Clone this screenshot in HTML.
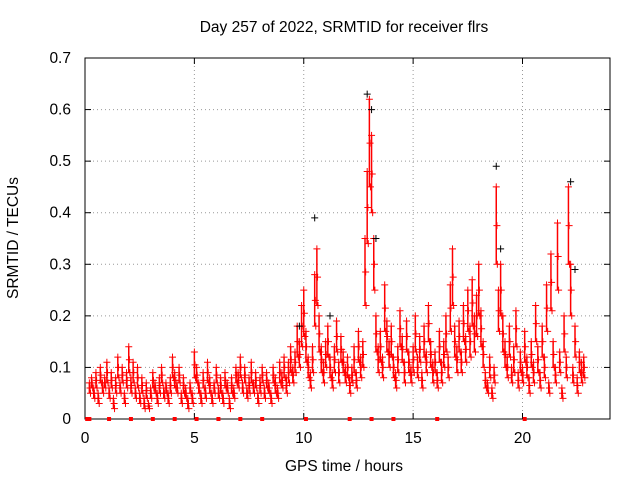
<!DOCTYPE html>
<html><head><meta charset="utf-8"><style>
body{margin:0;background:#fff}
svg text{font-family:"Liberation Sans",sans-serif;font-size:15.5px;fill:#000}
</style></head><body>
<svg id="chart" width="640" height="480">
<rect x="0" y="0" width="640" height="480" fill="#fff"/>
<g id="grid"></g>
<rect x="85" y="58" width="525" height="361" fill="none" stroke="#000" stroke-width="1"/>
<g id="axes"></g>
<g id="marks"></g>
<text x="344" y="32" text-anchor="middle">Day 257 of 2022, SRMTID for receiver flrs</text>
<text x="344" y="471" text-anchor="middle">GPS time / hours</text>
<text x="18" y="238" text-anchor="middle" transform="rotate(-90 18 238)">SRMTID / TECUs</text>
</svg>
<script>
const xTicks=[0,5,10,15,20];
const yTicks=[0,0.1,0.2,0.3,0.4,0.5,0.6,0.7];
const tStart=0.2, tStep=0.1;
const redValues=[0.07,0.08,0.06,0.09,0.05,0.10,0.07,0.08,
0.11,0.06,0.09,0.04,0.08,0.12,0.07,0.10,0.05,0.09,
0.14,0.08,0.11,0.06,0.10,0.05,0.08,0.04,0.07,0.03,
0.06,0.09,0.07,0.05,0.08,0.10,0.06,0.07,0.05,0.08,
0.12,0.09,0.07,0.10,0.05,0.08,0.06,0.04,0.07,0.05,
0.13,0.10,0.07,0.05,0.09,0.06,0.11,0.08,0.05,0.07,
0.10,0.06,0.08,0.05,0.09,0.07,0.04,0.08,0.06,0.10,
0.09,0.12,0.07,0.10,0.06,0.08,0.11,0.07,0.09,0.05,
0.08,0.10,0.06,0.09,0.07,0.05,0.10,0.08,0.06,0.11,
0.09,0.12,0.08,0.11,0.14,0.10,0.13,0.18,0.15,0.22,
0.25,0.17,0.12,0.09,0.14,0.28,0.33,0.20,0.14,0.11,
0.15,0.18,0.12,0.09,0.14,0.19,0.11,0.16,0.13,0.10,
0.12,0.08,0.10,0.14,0.09,0.17,0.12,0.15,0.35,0.48,
0.62,0.55,0.35,0.20,0.14,0.17,0.12,0.26,0.19,0.15,
0.18,0.12,0.09,0.14,0.21,0.16,0.11,0.19,0.13,0.10,
0.14,0.20,0.12,0.16,0.09,0.18,0.13,0.22,0.15,0.11,
0.13,0.09,0.17,0.11,0.15,0.20,0.12,0.26,0.33,0.18,
0.14,0.19,0.13,0.22,0.16,0.25,0.18,0.27,0.20,0.24,
0.30,0.21,0.15,0.09,0.07,0.12,0.06,0.10,0.45,0.25,
0.30,0.20,0.15,0.12,0.18,0.10,0.14,0.21,0.09,0.13,
0.10,0.17,0.12,0.08,0.15,0.11,0.22,0.14,0.09,0.18,
0.12,0.26,0.07,0.32,0.15,0.10,0.38,0.13,0.06,0.20,
0.12,0.45,0.30,0.10,0.18,0.08,0.13,0.11,0.12];
const redLows=[0.05,0.06,0.04,0.06,0.03,0.07,0.05,0.06,
0.07,0.04,0.06,0.02,0.05,0.08,0.05,0.07,0.03,0.06,
0.09,0.05,0.07,0.04,0.06,0.03,0.05,0.02,0.04,0.02,
0.04,0.06,0.05,0.03,0.05,0.07,0.04,0.05,0.03,0.05,
0.08,0.06,0.05,0.07,0.03,0.05,0.04,0.02,0.05,0.03,
0.08,0.07,0.05,0.03,0.06,0.04,0.07,0.05,0.03,0.05,
0.07,0.04,0.05,0.03,0.06,0.05,0.02,0.05,0.04,0.07,
0.06,0.08,0.05,0.07,0.04,0.05,0.07,0.05,0.06,0.03,
0.05,0.07,0.04,0.06,0.05,0.03,0.07,0.05,0.04,0.07,
0.06,0.08,0.05,0.07,0.09,0.07,0.09,0.12,0.10,0.14,
0.16,0.11,0.08,0.06,0.09,0.18,0.22,0.13,0.09,0.07,
0.10,0.12,0.08,0.06,0.09,0.13,0.07,0.11,0.09,0.07,
0.08,0.05,0.07,0.09,0.06,0.11,0.08,0.10,0.22,0.34,
0.45,0.40,0.25,0.13,0.09,0.11,0.08,0.17,0.13,0.10,
0.12,0.08,0.06,0.09,0.14,0.11,0.07,0.13,0.09,0.07,
0.09,0.13,0.08,0.11,0.06,0.12,0.09,0.15,0.10,0.07,
0.09,0.06,0.11,0.07,0.10,0.13,0.08,0.17,0.22,0.12,
0.09,0.13,0.09,0.15,0.11,0.17,0.12,0.18,0.13,0.16,
0.20,0.14,0.10,0.06,0.05,0.08,0.04,0.07,0.30,0.17,
0.20,0.13,0.10,0.08,0.12,0.07,0.09,0.14,0.06,0.09,
0.07,0.11,0.08,0.05,0.10,0.07,0.15,0.09,0.06,0.12,
0.08,0.17,0.05,0.21,0.10,0.07,0.25,0.09,0.04,0.13,
0.08,0.30,0.20,0.07,0.12,0.05,0.09,0.07,0.08];
const blackTimes=[10.5,12.9,13.1,13.3,18.8,19.0,22.2,22.4,9.8,11.2];
const blackValues=[0.39,0.63,0.60,0.35,0.49,0.33,0.46,0.29,0.18,0.20];
const zeroTimes=[0.1,0.2,1.1,2.1,3.1,4.1,5.1,6.1,7.1,8.1,10.1,12.1,13.1,14.1,16.1,20.1];

const X0=85,X1=610,Y0=419,Y1=58,XMAX=24,YMAX=0.7;
const sx=v=>X0+v/XMAX*(X1-X0);
const sy=v=>Y0-v/YMAX*(Y0-Y1);
const NS="http://www.w3.org/2000/svg";
const grid=document.getElementById('grid'),axes=document.getElementById('axes'),marks=document.getElementById('marks');
function mk(tag,attrs,parent){const e=document.createElementNS(NS,tag);for(const k in attrs)e.setAttribute(k,attrs[k]);parent.appendChild(e);return e;}
xTicks.forEach(t=>{
  const x=sx(t);
  if(t>0){const g=mk('line',{x1:x,x2:x,y1:Y1,y2:Y0,stroke:'#999','stroke-dasharray':'1,3'},grid);
  
  }
  mk('line',{x1:x,x2:x,y1:Y0,y2:Y0-6,stroke:'#000'},axes);
  mk('line',{x1:x,x2:x,y1:Y1,y2:Y1+6,stroke:'#000'},axes);
  const tx=mk('text',{x:x,y:443,'text-anchor':'middle'},axes);tx.textContent=t;
  
  
});
yTicks.forEach(t=>{
  const y=sy(t);
  if(t>0&&t<YMAX){const g=mk('line',{x1:X0,x2:X1,y1:y,y2:y,stroke:'#999','stroke-dasharray':'1,3'},grid);
  
  }
  mk('line',{x1:X0,x2:X0+6,y1:y,y2:y,stroke:'#000'},axes);
  mk('line',{x1:X1,x2:X1-6,y1:y,y2:y,stroke:'#000'},axes);
  const tx=mk('text',{x:71,y:y+5,'text-anchor':'end'},axes);tx.textContent=t===0?'0':t.toFixed(1);
  
  
});
function plus(t,v,color,name){
  const x=sx(t),y=sy(v);
  const p=mk('path',{d:`M${x-3.5},${y}h7M${x},${y-3.5}v7`,stroke:color,'stroke-width':1,fill:'none'},marks);
  
  
}
redValues.forEach((v,i)=>{
  const t=tStart+i*tStep;
  const lo=redLows[i];
  const s=mk('line',{x1:sx(t),x2:sx(t),y1:sy(v),y2:sy(lo),stroke:'#f00','stroke-width':1.5},marks);
  
  
  plus(t,v,'#f00','srmtid-point');
  plus(t+0.05,lo,'#f00','srmtid-point');
  plus(t+0.03,(v+lo)/2,'#f00','srmtid-point');
});
blackTimes.forEach((t,i)=>plus(t,blackValues[i],'#000','black-point'));
zeroTimes.forEach(t=>{
  const r=mk('rect',{x:sx(t)-2,y:Y0-2,width:4,height:4,fill:'#f00'},marks);
  
  
});
</script>
</body></html>
